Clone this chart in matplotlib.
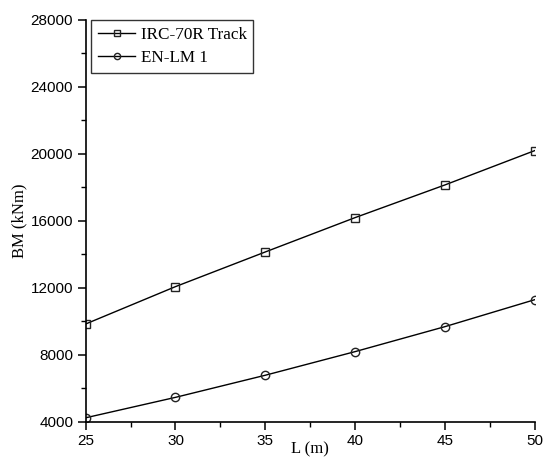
import matplotlib
matplotlib.use("Agg")
import matplotlib.pyplot as plt
from matplotlib.ticker import MultipleLocator

# Span length (m) and bending moment (kNm)
span = [25, 30, 35, 40, 45, 50]
bm_irc70r = [9850, 12080, 14150, 16200, 18150, 20200]
bm_enlm1 = [4250, 5470, 6790, 8200, 9690, 11300]
series_names = ["IRC-70R Track", "EN-LM 1"]

fig = plt.figure(figsize=(5.44, 4.63), dpi=100)
ax = fig.add_axes([0.1575, 0.0886, 0.8254, 0.8683])

ax.plot(span, bm_irc70r, color="black", lw=1.0, marker="s", ms=5.5,
        mfc="none", mec="#222222", mew=1.0, label=series_names[0])
ax.plot(span, bm_enlm1, color="black", lw=1.0, marker="o", ms=6,
        mfc="none", mec="#222222", mew=1.0, label=series_names[1])

ax.set_xlim(25, 50)
ax.set_ylim(4000, 28000)
ax.xaxis.set_major_locator(MultipleLocator(5))
ax.xaxis.set_minor_locator(MultipleLocator(2.5))
ax.yaxis.set_major_locator(MultipleLocator(4000))
ax.yaxis.set_minor_locator(MultipleLocator(2000))

for side in ("top", "right"):
    ax.spines[side].set_visible(False)
for side in ("left", "bottom"):
    ax.spines[side].set_linewidth(1.2)
ax.spines["bottom"].set_bounds(25, 50)

ax.tick_params(which="major", direction="out", length=6, width=1.1,
               labelsize=11, pad=3)
ax.tick_params(which="minor", direction="out", length=3.5, width=1.0)
for lab in ax.get_xticklabels() + ax.get_yticklabels():
    lab.set_family("Liberation Sans")

ax.set_xlabel("L (m)", family="Liberation Serif", fontsize=12)
ax.set_ylabel("BM (kNm)", family="Liberation Serif", fontsize=12)
ax.xaxis.set_label_coords(0.5, -0.048)
ax.xaxis.label.set_va("top")
ax.yaxis.set_label_coords(-0.129, 0.5)

leg = ax.legend(loc="upper left", bbox_to_anchor=(0.012, 1.0),
                prop={"family": "Liberation Serif", "size": 12.3},
                frameon=True, fancybox=False, edgecolor="black",
                handlelength=2.2, handletextpad=0.3, borderpad=0.4,
                labelspacing=0.45, markerscale=0.75, borderaxespad=0)
leg.get_frame().set_linewidth(1.0)

fig.savefig("out.png", dpi=100, facecolor="white")
